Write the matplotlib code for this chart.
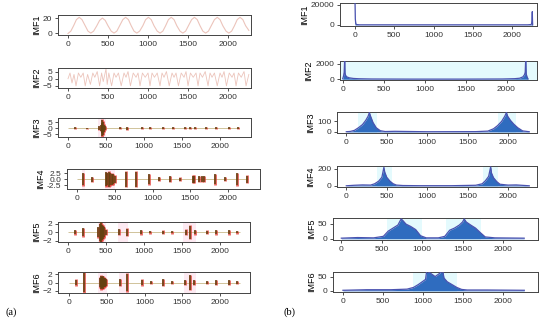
import matplotlib
matplotlib.use("Agg")
import matplotlib.pyplot as plt

plt.rcParams["font.family"] = ["Liberation Sans", "DejaVu Sans"]

# ---- data ----
N_SAMPLES = 2260

# (a) IMF1: slow oscillation, vertices
imf1_x = [0, 35, 70, 105, 140, 175, 210, 250, 285, 320, 360, 395, 430,
          465, 500, 540, 575, 610, 645, 685, 720, 755, 790, 825, 860, 895,
          935, 970, 1005, 1040, 1075, 1115, 1150, 1185, 1220, 1255, 1290,
          1325, 1360, 1400, 1435, 1470, 1505, 1545, 1580, 1615, 1650, 1685,
          1720, 1755, 1790, 1830, 1865, 1900, 1935, 1975, 2010, 2045, 2080,
          2115, 2150, 2185, 2220, 2260]
imf1_y = [0, 3, 10, 18, 21, 18, 11, 3, 0.5, 3, 10, 17, 20, 17, 10, 3, 0.5,
          3, 10, 18, 21, 18, 10, 3, 0.5, 3, 10, 18, 21, 18, 10, 3, 0.5, 3,
          10, 18, 21, 18, 10, 3, 0.5, 3, 10, 18, 21, 18, 10, 3, 0.5, 3, 10,
          18, 21, 18, 10, 3, 0.5, 3, 10, 18, 21, 18, 10, 4]

# (a) IMF2: "M"-shaped oscillation
imf2_x = [0, 25, 50, 75, 100, 130, 160, 190, 215, 245, 280, 310, 335, 365,
          395, 420, 440, 460, 475, 490, 510, 545, 575, 600, 630, 665, 700,
          725, 750, 780, 815, 850, 875, 900, 930, 965, 1000, 1025, 1050,
          1080, 1115, 1150, 1175, 1200, 1230, 1265, 1300, 1325, 1350, 1380,
          1415, 1450, 1475, 1500, 1530, 1565, 1600, 1625, 1650, 1680, 1715,
          1750, 1775, 1800, 1830, 1865, 1900, 1925, 1950, 1980, 2015, 2050,
          2075, 2100, 2130, 2165, 2200, 2225, 2260]
imf2_y = [0, 4, -3, 3, -5, 4, 1, 4, -5, 3, -4, 4, 1, 5, -5, 4, -2, 3, 7,
          -4, 4, -5, 4, 1, 4, -5, 4, 1, 5, -5, 4, 1, 4, -5, 4, 1, 4, -5, 4,
          1, 4, -5, 4, 1, 5, -5, 4, 1, 4, -5, 4, 1, 5, -5, 4, 1, 4, -5, 4, 1,
          5, -5, 4, 1, 4, -5, 4, 1, 5, -5, 4, 1, 4, -5, 4, 1, 5, -5, 3]

# (a) IMF3..IMF6: burst centres and half amplitudes
imf3_bx = [88, 250, 410, 430, 445, 455, 465, 475, 490, 680, 780, 970, 1080,
           1260, 1380, 1545, 1610, 1670, 1825, 1955, 2130, 2250]
imf3_ba = [0.9, 0.4, 1.5, 2.5, 4, 7, 5.5, 3, 1.5, 1, 1.2, 1, 0.8, 0.8, 1,
           1, 0.9, 1, 0.8, 1, 0.8, 0.8]

imf4_bx = [80, 200, 380, 400, 420, 440, 460, 480, 500, 655, 780, 955, 1090,
           1236, 1360, 1530, 1545, 1615, 1650, 1680, 1825, 1960, 2120, 2252]
imf4_ba = [2.5, 1, 2.8, 2.5, 3, 2.5, 2.2, 2, 1.5, 3, 3, 2, 0.8, 1.2, 0.7,
           1.5, 1.5, 1.2, 1.2, 1.2, 2, 0.8, 2.5, 1.5]

imf5_bx = [88, 198, 400, 420, 435, 450, 465, 480, 495, 668, 770, 967, 1077,
           1253, 1370, 1550, 1604, 1670, 1824, 1947, 2123, 2228]
imf5_ba = [0.5, 1, 1.2, 2, 2.3, 1.8, 1.5, 1.2, 0.6, 0.7, 0.8, 0.5, 0.3,
           0.4, 0.3, 0.6, 1.5, 0.5, 0.4, 0.5, 0.5, 0.3]

imf6_bx = [88, 198, 405, 420, 435, 450, 465, 480, 495, 680, 770, 967, 1080,
           1240, 1370, 1540, 1604, 1660, 1824, 1947, 2123, 2228]
imf6_ba = [0.7, 2.3, 1.2, 1.6, 1.4, 1.5, 1.2, 1.0, 0.8, 0.8, 2.2, 0.7, 0.3,
           0.8, 0.3, 0.6, 1.8, 0.6, 0.4, 0.6, 0.6, 0.3]

# (b) spectra: envelope points
sp1_x = [0, 4, 10, 20, 60, 2200, 2240, 2250, 2254, 2258, 2262]
sp1_y = [24000, 6000, 1200, 400, 150, 150, 400, 1200, 4000, 13000, 200]

sp2_x = [0, 10, 18, 24, 28, 35, 50, 80, 130, 200, 350, 800, 1500, 1950,
         2100, 2160, 2200, 2220, 2228, 2234, 2240, 2250, 2262]
sp2_y = [60, 400, 900, 2600, 800, 500, 300, 180, 100, 60, 30, 15, 15, 30,
         70, 130, 300, 600, 900, 2600, 700, 300, 50]

sp3_x = [0, 50, 100, 150, 200, 240, 270, 285, 300, 330, 370, 420, 480, 600,
         1000, 1600, 1750, 1820, 1870, 1920, 1960, 1980, 1995, 2030, 2070,
         2120, 2180, 2262]
sp3_y = [2, 5, 15, 40, 70, 110, 150, 185, 150, 90, 40, 12, 4, 6, 2, 3, 8,
         30, 60, 100, 150, 185, 150, 110, 75, 40, 10, 2]

sp4_x = [0, 100, 200, 300, 350, 400, 440, 465, 475, 500, 540, 580, 620,
         700, 900, 1300, 1600, 1680, 1720, 1760, 1785, 1795, 1820, 1860,
         1900, 2000, 2100, 2262]
sp4_y = [2, 8, 12, 10, 25, 55, 100, 215, 160, 100, 55, 25, 10, 5, 3, 3, 8,
         25, 60, 110, 220, 150, 95, 50, 20, 10, 12, 2]

sp5_x = [0, 200, 400, 520, 580, 640, 700, 740, 760, 800, 860, 920, 980,
         1050, 1200, 1280, 1340, 1400, 1460, 1500, 1520, 1545, 1600, 1660,
         1720, 1780, 1900, 2262]
sp5_y = [2, 4, 3, 8, 25, 35, 45, 65, 60, 48, 40, 30, 10, 3, 3, 8, 28, 35,
         45, 55, 65, 55, 45, 35, 20, 6, 3, 2]

sp6_x = [0, 300, 600, 800, 880, 940, 990, 1030, 1045, 1100, 1150, 1200,
         1245, 1260, 1300, 1360, 1420, 1480, 1550, 1800, 2262]
sp6_y = [2, 4, 4, 6, 12, 22, 32, 40, 70, 60, 50, 60, 70, 45, 32, 22, 12, 5,
         3, 3, 2]

W, H = 550, 320


def box(x0, y0, x1, y1):
    return [x0 / W, 1 - y1 / H, (x1 - x0) / W, (y1 - y0) / H]


def style(ax, label, xlim, ylim, yticks, yticklabels=None):
    ax.set_xlim(*xlim)
    ax.set_ylim(*ylim)
    ax.set_xticks([0, 500, 1000, 1500, 2000])
    ax.set_yticks(yticks)
    if yticklabels is not None:
        ax.set_yticklabels(yticklabels)
    ax.tick_params(labelsize=6, length=2.5, width=0.6, pad=1.5,
                   colors="#333333")
    ax.set_ylabel(label, fontsize=6.5, labelpad=1.5)
    for s in ax.spines.values():
        s.set_linewidth(0.7)
        s.set_color("#444444")


fig = plt.figure(figsize=(5.5, 3.2), dpi=100)

# ---------- (a) ----------
ax = fig.add_axes(box(58, 15, 251, 35))
ax.plot(imf1_x, imf1_y, color="#ecc4bb", lw=0.8)
style(ax, "IMF1", (-125, 2287), (-2, 24), [0, 20])

ax = fig.add_axes(box(58, 68, 251, 88))
ax.plot(imf2_x, imf2_y, color="#ecc4bb", lw=0.6)
style(ax, "IMF2", (-125, 2287), (-6.5, 7.5), [-5, 0, 5])

bursts = [
    ("IMF3", imf3_bx, imf3_ba, box(58, 118, 251, 137), (-132, 2415),
     (-7.5, 8.5), [-5, 0, 5], None, [(400, 500)]),
    ("IMF4", imf4_bx, imf4_ba, box(67, 169, 260, 189), (-132, 2423),
     (-4, 4.2), [-2.5, 0, 2.5], ["-2.5", "0.0", "2.5"],
     [(60, 100), (370, 510)]),
    ("IMF5", imf5_bx, imf5_ba, box(58, 222, 250, 242), (-132, 2396),
     (-2.3, 2.4), [-2, 0, 2], None, [(390, 505), (660, 790), (1520, 1680)]),
    ("IMF6", imf6_bx, imf6_ba, box(58, 272, 250, 293), (-145, 2396),
     (-2.6, 2.6), [-2, 0, 2], None, [(390, 505), (660, 790), (1520, 1680)]),
]
for label, bx, ba, pos, xl, yl, yt, ytl, spans in bursts:
    ax = fig.add_axes(pos)
    for a, b in spans:
        ax.axvspan(a, b, color="#fdeaf2", lw=0, zorder=0)
    ax.hlines(0, 0, N_SAMPLES, color="#c9b98a", lw=0.6, zorder=1)
    neg = [-v for v in ba]
    ax.vlines(bx, [v * 1.1 for v in neg], [v * 1.1 for v in ba],
              color="#e0302a", lw=2.0, alpha=0.75, zorder=2)
    ax.vlines(bx, neg, ba, color="#5e4210", lw=1.1, zorder=3)
    style(ax, label, xl, yl, yt, ytl)

# ---------- (b) ----------
spectra = [
    ("IMF1", sp1_x, sp1_y, box(340, 3, 537, 26), (-191, 2318),
     (-1000, 21500), [0, 20000], [], None),
    ("IMF2", sp2_x, sp2_y, box(340, 61, 537, 80), (-33, 2372),
     (-100, 2350), [0, 2000], [(-33, 2372)], None),
    ("IMF3", sp3_x, sp3_y, box(337, 112, 537, 133), (-115, 2358),
     (-10, 190), [0, 100], [(150, 380), (1880, 2100)], None),
    ("IMF4", sp4_x, sp4_y, box(337, 166, 537, 187), (-115, 2358),
     (-12, 230), [0, 200], [(380, 570), (1690, 1880)], None),
    ("IMF5", sp5_x, sp5_y, box(333, 218, 538, 240), (-103, 2433),
     (-4, 68), [0, 50], [(560, 1000), (1300, 1730)], None),
    ("IMF6", sp6_x, sp6_y, box(333, 272, 538, 292), (-124, 2433),
     (-4, 66), [0, 50], [(880, 1420)], None),
]
for label, sx, sy, pos, xl, yl, yt, spans, ytl in spectra:
    ax = fig.add_axes(pos)
    for a, b in spans:
        ax.axvspan(a, b, color="#e4fafd", lw=0, zorder=0)
    ax.fill_between(sx, 0, sy, color="#2f6cbf", lw=0, zorder=2)
    ax.plot(sx, sy, color="#4a52b0", lw=0.9, zorder=3)
    style(ax, label, xl, yl, yt, ytl)

fig.text(5 / W, 1 - 312 / H, "(a)", family="Liberation Serif", fontsize=7.5,
         va="center", ha="left")
fig.text(283 / W, 1 - 312 / H, "(b)", family="Liberation Serif",
         fontsize=7.5, va="center", ha="left")

fig.savefig("out.png", dpi=100)
plt.close(fig)
